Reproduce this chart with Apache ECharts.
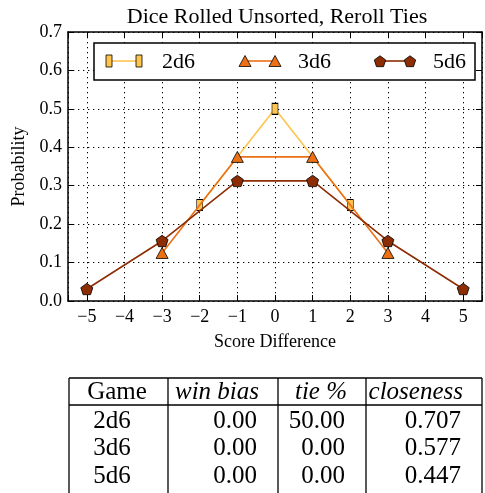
<!DOCTYPE html>
<html><head><meta charset="utf-8">
<script src="https://cdn.jsdelivr.net/npm/echarts@6/dist/echarts.min.js"></script>
<style>html,body{margin:0;padding:0;background:#fff}#c{width:485px;height:493px}</style>
</head><body><div id="c"></div>
<script>
// ---- data ----
const seriesNames = ['2d6', '3d6', '5d6'];
const x2d6 = [-2, 0, 2];
const y2d6 = [0.25, 0.5, 0.25];
const x3d6 = [-3, -1, 1, 3];
const y3d6 = [0.125, 0.375, 0.375, 0.125];
const x5d6 = [-5, -3, -1, 1, 3, 5];
const y5d6 = [0.03125, 0.15625, 0.3125, 0.3125, 0.15625, 0.03125];
const titleText = 'Dice Rolled Unsorted, Reroll Ties';
const xName = 'Score Difference';
const yName = 'Probability';
const tableHeader = ['Game', 'win bias', 'tie %', 'closeness'];
const tableGames = ['2d6', '3d6', '5d6'];
const tableWinBias = ['0.00', '0.00', '0.00'];
const tableTie = ['50.00', '0.00', '0.00'];
const tableCloseness = ['0.707', '0.577', '0.447'];

// ---- style ----
const FONT = 'Liberation Serif';
const fillColors = ['#fec44f', '#ec7014', '#8c2d04'];
const lineColors = ['#fec44f', '#ec7014', '#8c2d04'];
const PENT = 'path://M0,-10 L9.511,-3.090 L5.878,8.090 L-5.878,8.090 L-9.511,-3.090 Z';
const symbols = ['rect', 'triangle', PENT];
const symbolSizes = [[6, 11], [12, 11], [12, 12]];

const xs = [x2d6, x3d6, x5d6];
const ys = [y2d6, y3d6, y5d6];

const series = seriesNames.map((n, i) => ({
  name: n, type: 'line',
  data: xs[i].map((x, k) => [x, ys[i][k]]),
  symbol: symbols[i], symbolSize: symbolSizes[i], symbolKeepAspect: true,
  showAllSymbol: true,
  lineStyle: { color: lineColors[i], width: 1.6 },
  itemStyle: { color: fillColors[i], borderColor: '#000', borderWidth: 0.8, opacity: 1 },
  emphasis: { disabled: true },
  z: 2 + i
}));

const dotted = { show: true, lineStyle: { color: '#000', width: 1, type: [1.3, 3.7] } };
const axisLineStyle = { show: true, onZero: false, lineStyle: { color: '#000', width: 1.5 } };
const tickStyle = { show: true, inside: true, length: 6, lineStyle: { color: '#000', width: 1 } };
const minusFmt = v => Math.abs(v - Math.round(v)) < 1e-9 ? String(Math.round(v)).replace('-', '\u2212') : '';

function txt(x, y, text, size, align, italic) {
  return { type: 'text', x: x, y: y, z: 102,
    style: { text: text, fontFamily: FONT, fontSize: size, fontStyle: italic ? 'italic' : 'normal',
      fill: '#000', align: align, verticalAlign: 'middle' } };
}

// ---- graphic: title, legend, table ----
const g = [];
g.push(txt(277, 17, titleText, 22, 'center', false));

// legend
g.push({ type: 'rect', shape: { x: 94, y: 43, width: 381, height: 37 }, z: 100,
  style: { fill: '#fff', stroke: '#000', lineWidth: 1.5 } });
const legX = [109, 245, 380];
const legY = 61;
function markerShape(i, cx, cy) {
  const st = { fill: fillColors[i], stroke: '#000', lineWidth: 0.8 };
  if (i === 0) return { type: 'rect', shape: { x: cx - 3, y: cy - 6, width: 6, height: 12 }, style: st, z: 102 };
  if (i === 1) return { type: 'polygon', shape: { points: [[cx - 6, cy + 5.5], [cx, cy - 5.5], [cx + 6, cy + 5.5]] }, style: st, z: 102 };
  const pts = [];
  for (let k = 0; k < 5; k++) { const a = (-90 + 72 * k) * Math.PI / 180; pts.push([cx + 6 * Math.cos(a), cy + 0.8 + 6 * Math.sin(a)]); }
  return { type: 'polygon', shape: { points: pts }, style: st, z: 102 };
}
seriesNames.forEach((n, i) => {
  const x0 = legX[i], x1 = legX[i] + 30;
  g.push({ type: 'line', shape: { x1: x0, y1: legY, x2: x1, y2: legY }, z: 101, style: { stroke: lineColors[i], lineWidth: 1.6 } });
  g.push(markerShape(i, x0, legY));
  g.push(markerShape(i, x1, legY));
  g.push(txt(x1 + 23, legY + 1, n, 22, 'left', false));
});

// table
const colX = [69, 168, 278, 366, 482];
const tTop = 378, tHead = 405, tBottom = 493;
const tbl = { stroke: '#000', lineWidth: 1.3 };
g.push({ type: 'line', shape: { x1: colX[0], y1: tTop, x2: colX[4], y2: tTop }, style: tbl });
g.push({ type: 'line', shape: { x1: colX[0], y1: tHead, x2: colX[4], y2: tHead }, style: tbl });
colX.forEach(x => g.push({ type: 'line', shape: { x1: x, y1: tTop, x2: x, y2: tBottom }, style: tbl }));
const headY = 392;
g.push(txt(117, headY, tableHeader[0], 25, 'center', false));
[tableHeader[1], tableHeader[2], tableHeader[3]].forEach((h, j) => {
  g.push(txt(colX[j + 2] - 19, headY, h, 25, 'right', true));
});
const rowY = [421, 448, 476];
tableGames.forEach((gm, r) => {
  g.push(txt(112, rowY[r], gm, 25, 'center', false));
  [tableWinBias[r], tableTie[r], tableCloseness[r]].forEach((v, j) => {
    g.push(txt(colX[j + 2] - 21, rowY[r], v, 25, 'right', false));
  });
});

const option = {
  animation: false,
  backgroundColor: '#fff',
  grid: { left: 68, top: 32, width: 418, height: 269, containLabel: false },
  xAxis: [
    { type: 'value', min: -5.5, max: 5.5, splitNumber: 11, position: 'bottom',
      axisLine: axisLineStyle, axisTick: tickStyle, splitLine: dotted,
      axisLabel: { color: '#000', fontFamily: FONT, fontSize: 18, margin: 7, formatter: minusFmt },
      name: xName, nameLocation: 'middle', nameGap: 32,
      nameTextStyle: { color: '#000', fontFamily: FONT, fontSize: 18 } },
    { type: 'value', min: -5.5, max: 5.5, splitNumber: 11, position: 'top',
      axisLine: axisLineStyle, axisTick: tickStyle, splitLine: { show: false }, axisLabel: { show: false } }
  ],
  yAxis: [
    { type: 'value', min: 0, max: 0.7, interval: 0.1, position: 'left',
      axisLine: axisLineStyle, axisTick: tickStyle, splitLine: dotted,
      axisLabel: { color: '#000', fontFamily: FONT, fontSize: 18, margin: 6, formatter: v => v.toFixed(1) },
      name: yName, nameLocation: 'middle', nameGap: 37, nameRotate: 90,
      nameTextStyle: { color: '#000', fontFamily: FONT, fontSize: 18 } },
    { type: 'value', min: 0, max: 0.7, interval: 0.1, position: 'right',
      axisLine: axisLineStyle, axisTick: tickStyle, splitLine: { show: false }, axisLabel: { show: false } }
  ],
  series: series,
  graphic: { elements: g }
};
const chart = echarts.init(document.getElementById('c'), null, { renderer: 'canvas' });
chart.setOption(option);
</script>
</body></html>
